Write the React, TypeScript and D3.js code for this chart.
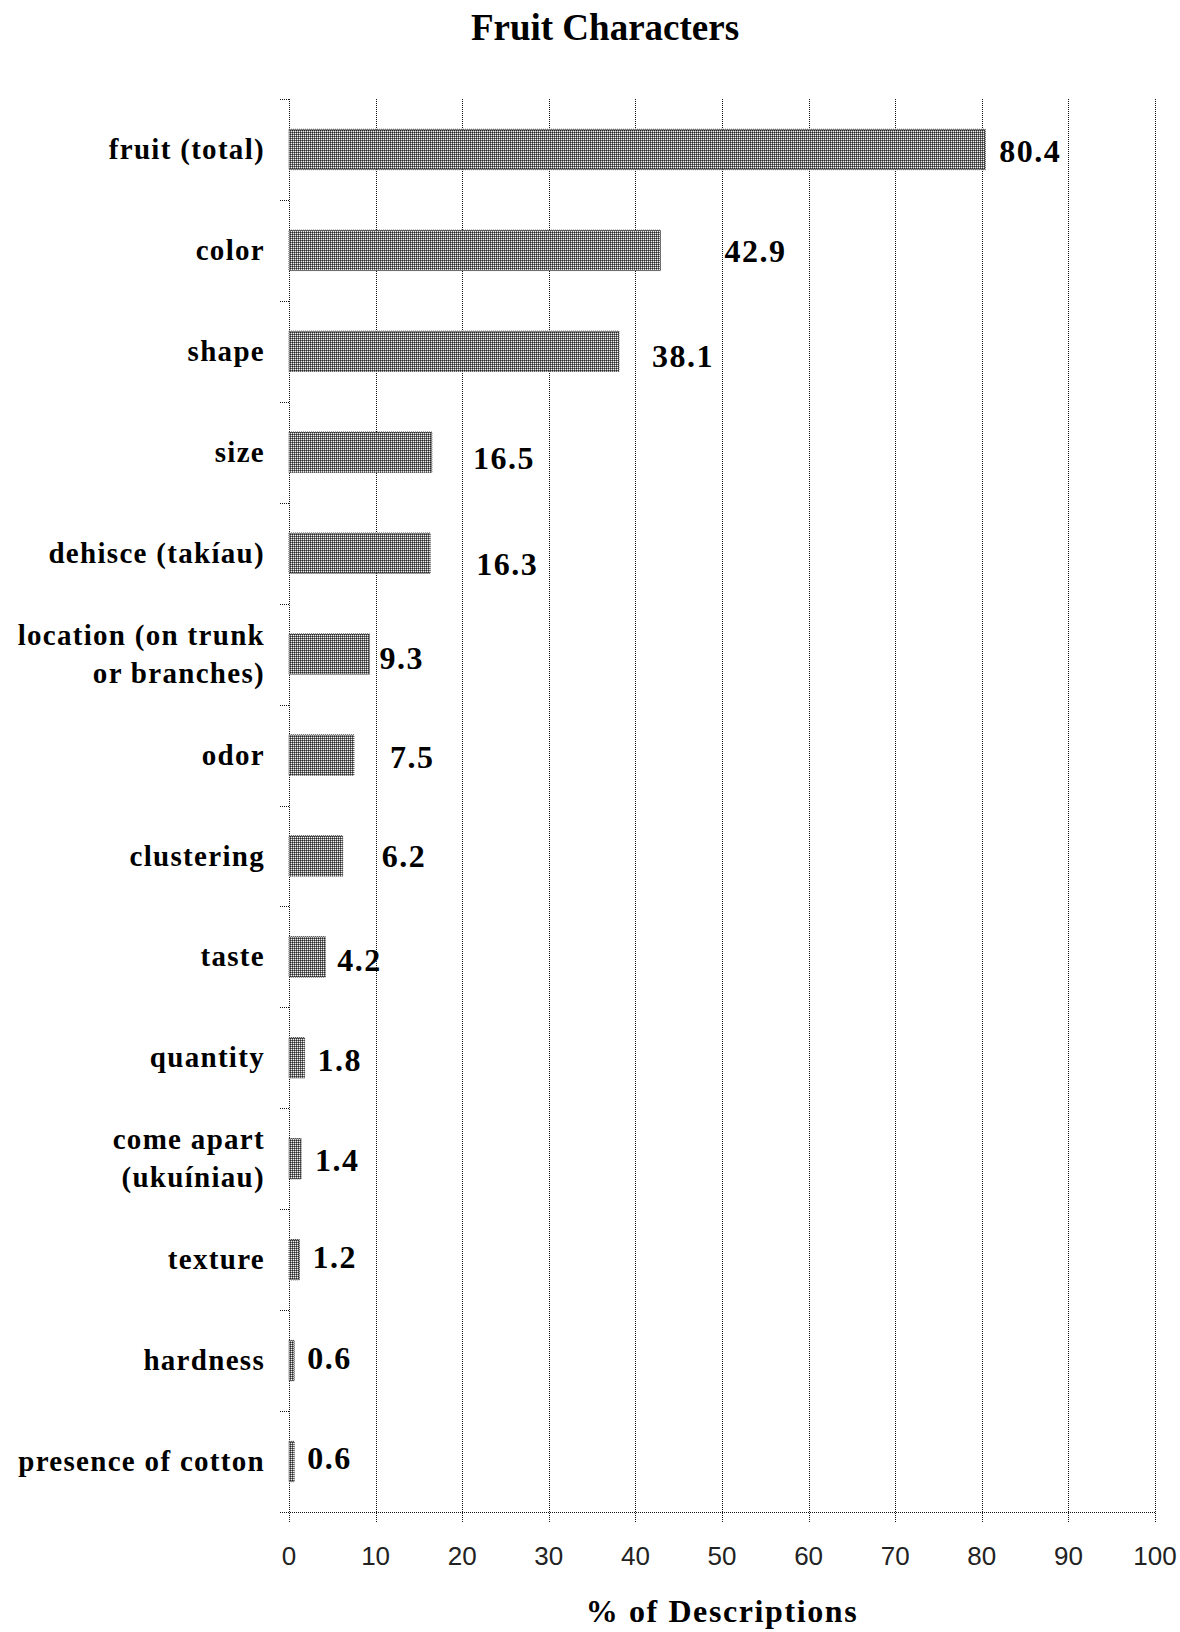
import React from "react";
import * as d3 from "d3";

// Share of plant descriptions that mention each fruit character (%)
const categories: string[] = [
  "fruit (total)",
  "color",
  "shape",
  "size",
  "dehisce (takíau)",
  "location (on trunk\nor branches)",
  "odor",
  "clustering",
  "taste",
  "quantity",
  "come apart\n(ukuíniau)",
  "texture",
  "hardness",
  "presence of cotton",
];
const values: number[] = [80.4, 42.9, 38.1, 16.5, 16.3, 9.3, 7.5, 6.2, 4.2, 1.8, 1.4, 1.2, 0.6, 0.6];
const xTicks: number[] = [0, 10, 20, 30, 40, 50, 60, 70, 80, 90, 100];

// Hand placement of the value labels (gap after the bar end, vertical nudge), in px
const labelGap: number[] = [14, 64, 33, 41, 46, 10, 36, 39, 12, 13, 14, 13, 13, 13];
const labelNudge: number[] = [1, 0, 4, 5, 10, 3, 1, 0, 3, 2, 1, -3, -3, -4];

const W = 1180;
const H = 1632;
const plot = { left: 289, right: 1155, top: 99, bottom: 1512 };

const serif = "'Liberation Serif', 'Times New Roman', serif";
const sans = "'Liberation Sans', Arial, sans-serif";

export default function App() {
  const x = d3.scaleLinear().domain([0, 100]).range([plot.left, plot.right]);
  const y = d3
    .scaleBand<string>()
    .domain(categories)
    .range([plot.top, plot.bottom])
    .paddingInner(0.6)
    .paddingOuter(0.3);
  const step = y.step();
  const bw = y.bandwidth();
  const boundaries = d3.range(categories.length + 1).map((i) => plot.top + i * step);

  return (
    <svg
      width={W}
      height={H}
      viewBox={`0 0 ${W} ${H}`}
      style={{ position: "absolute", left: 0, top: 0, background: "#fff" }}
    >
      <defs>
        <pattern id="dither" width={2} height={2} patternUnits="userSpaceOnUse">
          <rect x={0} y={0} width={2} height={2} fill="#727272" />
          <rect x={0} y={0} width={1} height={1} fill="#2a2a2a" />
          <rect x={1} y={1} width={1} height={1} fill="#f0f0f0" />
        </pattern>
      </defs>
      <rect x={0} y={0} width={W} height={H} fill="#fff" />

      {/* title */}
      <text
        x={605}
        y={40}
        textAnchor="middle"
        fontFamily={serif}
        fontWeight="bold"
        fontSize={37}
        fill="#000"
      >
        Fruit Characters
      </text>

      {/* dotted vertical gridlines with ticks below the axis */}
      {xTicks.map((t) => (
        <line
          key={`g${t}`}
          x1={Math.round(x(t)) + 0.5}
          x2={Math.round(x(t)) + 0.5}
          y1={plot.top}
          y2={plot.bottom + 10}
          stroke="#111"
          strokeWidth={1}
          strokeDasharray="1 1"
        />
      ))}

      {/* dotted x axis line */}
      <line
        x1={plot.left - 9}
        x2={plot.right}
        y1={Math.round(plot.bottom) + 0.5}
        y2={Math.round(plot.bottom) + 0.5}
        stroke="#111"
        strokeWidth={1}
        strokeDasharray="1 1"
      />

      {/* category tick marks at band boundaries */}
      {boundaries.map((b, i) => (
        <line
          key={`t${i}`}
          x1={plot.left - 9}
          x2={plot.left}
          y1={Math.round(b) + 0.5}
          y2={Math.round(b) + 0.5}
          stroke="#111"
          strokeWidth={1}
          strokeDasharray="1 1"
        />
      ))}

      {/* bars */}
      {categories.map((c, i) => (
        <rect
          key={`b${i}`}
          x={x(0)}
          y={y(c)!}
          width={x(values[i]) - x(0)}
          height={bw}
          fill="url(#dither)"
          stroke="#444"
          strokeWidth={1}
          strokeDasharray="1 1"
        />
      ))}

      {/* value labels */}
      {categories.map((c, i) => (
        <text
          key={`v${i}`}
          x={x(values[i]) + labelGap[i]}
          y={y(c)! + bw / 2 + labelNudge[i]}
          dy="0.36em"
          fontFamily={serif}
          fontWeight="bold"
          fontSize={32}
          letterSpacing={1.5}
          fill="#000"
        >
          {values[i].toFixed(1)}
        </text>
      ))}

      {/* category labels */}
      {categories.map((c, i) => {
        const lines = c.split("\n");
        const cy = y(c)! + bw / 2;
        const lh = 38;
        return (
          <text
            key={`c${i}`}
            x={265}
            textAnchor="end"
            fontFamily={serif}
            fontWeight="bold"
            fontSize={29}
            letterSpacing={1.3}
            fill="#000"
          >
            {lines.map((l, j) => (
              <tspan key={j} x={265} y={cy + (j - (lines.length - 1) / 2) * lh} dy="0.33em">
                {l}
              </tspan>
            ))}
          </text>
        );
      })}

      {/* x tick labels */}
      {xTicks.map((t) => (
        <text
          key={`xl${t}`}
          x={x(t)}
          y={1565}
          textAnchor="middle"
          fontFamily={sans}
          fontSize={26}
          fill="#222"
        >
          {t}
        </text>
      ))}

      {/* x axis title */}
      <text
        x={(plot.left + plot.right) / 2}
        y={1622}
        textAnchor="middle"
        fontFamily={serif}
        fontWeight="bold"
        fontSize={32}
        letterSpacing={1.6}
        fill="#000"
      >
        % of Descriptions
      </text>
    </svg>
  );
}
